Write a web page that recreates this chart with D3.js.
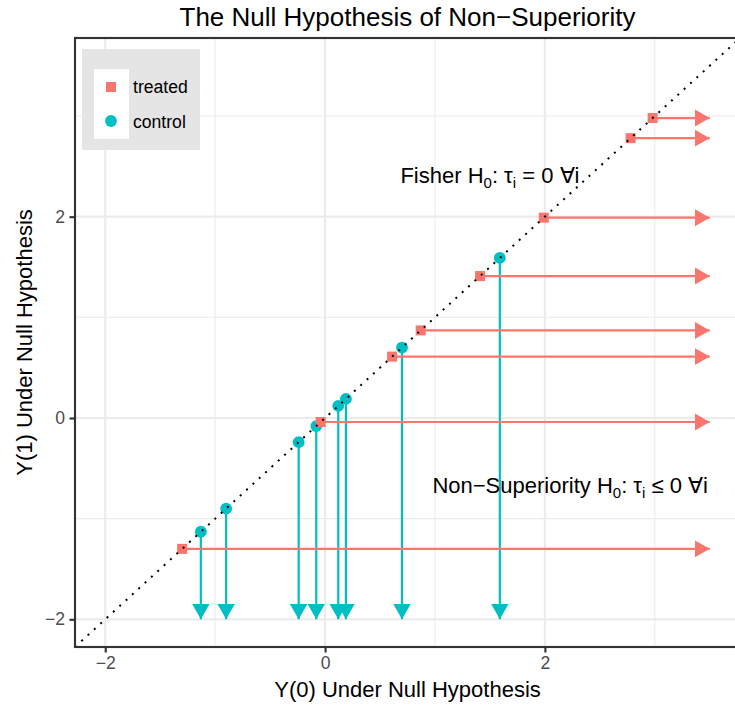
<!DOCTYPE html>
<html>
<head>
<meta charset="utf-8">
<script src="https://cdn.jsdelivr.net/npm/d3@7"></script>
<style>
  body { margin: 0; background: #fff; }
  text { font-family: "Liberation Sans", Arial, sans-serif; }
</style>
</head>
<body>
<svg class="chart" width="735" height="706"></svg>
<script>
// values, every unit sits on the diagonal y = x
var treated = [-1.30, -0.04, 0.61, 0.87, 1.41, 1.99, 2.78, 2.98]
var control = [-1.13, -0.90, -0.24, -0.08, 0.12, 0.19, 0.70, 1.59]
var arrowEndX = 3.5 // horizontal arrows go right up to here
var arrowEndY = -2  // vertical arrows go down to here
var majorTicks = [-2, 0, 2]
var minorTicks = [-1, 1, 3]
var groups = ["treated", "control"]
var colors = ["#F8766D", "#00BFC4"]

var panel = { left: 75, right: 740, top: 38, bottom: 647 }

var x = d3.scaleLinear().domain([-2.275, 3.775]).range([panel.left, panel.right])
var y = d3.scaleLinear().domain([-2.275, 3.775]).range([panel.bottom, panel.top])
var color = d3.scaleOrdinal().domain(groups).range(colors)

var chart = d3.select(".chart")

chart.append("defs").append("clipPath").attr("id", "clip")
    .append("rect")
    .attr("x", panel.left).attr("y", panel.top)
    .attr("width", panel.right - panel.left).attr("height", panel.bottom - panel.top)

// arrow heads, one per colour
groups.forEach(g => {
    chart.select("defs").append("marker")
        .attr("id", "head-" + g)
        .attr("markerUnits", "userSpaceOnUse")
        .attr("viewBox", "0 -9 16 18")
        .attr("refX", 15.2).attr("refY", 0)
        .attr("markerWidth", 16).attr("markerHeight", 18)
        .attr("orient", "auto")
        .append("path")
        .attr("d", "M0,-8.7L15.2,0L0,8.7Z")
        .attr("fill", color(g))
})

var plot = chart.append("g").attr("clip-path", "url(#clip)")

// grid lines (minor thin, major thicker)
plot.selectAll(".vminor").data(minorTicks).enter().append("line")
    .attr("x1", d => x(d)).attr("x2", d => x(d))
    .attr("y1", panel.top).attr("y2", panel.bottom)
    .attr("stroke", "#EBEBEB").attr("stroke-width", 1.07)
plot.selectAll(".hminor").data(minorTicks).enter().append("line")
    .attr("y1", d => y(d)).attr("y2", d => y(d))
    .attr("x1", panel.left).attr("x2", panel.right)
    .attr("stroke", "#EBEBEB").attr("stroke-width", 1.07)
plot.selectAll(".vmajor").data(majorTicks).enter().append("line")
    .attr("x1", d => x(d)).attr("x2", d => x(d))
    .attr("y1", panel.top).attr("y2", panel.bottom)
    .attr("stroke", "#EBEBEB").attr("stroke-width", 2.13)
plot.selectAll(".hmajor").data(majorTicks).enter().append("line")
    .attr("y1", d => y(d)).attr("y2", d => y(d))
    .attr("x1", panel.left).attr("x2", panel.right)
    .attr("stroke", "#EBEBEB").attr("stroke-width", 2.13)

// control units: Y(1) can go all the way down
plot.selectAll(".down").data(control).enter().append("line")
    .attr("x1", d => x(d)).attr("x2", d => x(d))
    .attr("y1", d => y(d)).attr("y2", y(arrowEndY))
    .attr("stroke", color("control")).attr("stroke-width", 2.2)
    .attr("marker-end", "url(#head-control)")

// treated units: Y(0) can go all the way right
plot.selectAll(".right").data(treated).enter().append("line")
    .attr("x1", d => x(d)).attr("x2", x(arrowEndX))
    .attr("y1", d => y(d)).attr("y2", d => y(d))
    .attr("stroke", color("treated")).attr("stroke-width", 2.2)
    .attr("marker-end", "url(#head-treated)")

plot.selectAll(".pt-c").data(control).enter().append("circle")
    .attr("cx", d => x(d)).attr("cy", d => y(d)).attr("r", 5.9)
    .attr("fill", color("control"))

plot.selectAll(".pt-t").data(treated).enter().append("rect")
    .attr("x", d => x(d) - 5).attr("y", d => y(d) - 5)
    .attr("width", 10).attr("height", 10)
    .attr("fill", color("treated"))

// the y = x line, dotted, over everything
plot.append("line")
    .attr("x1", x(-2.275)).attr("y1", y(-2.275))
    .attr("x2", x(3.775)).attr("y2", y(3.775))
    .attr("stroke", "#000").attr("stroke-width", 2)
    .attr("stroke-dasharray", "2,6.6")

// annotations with subscripts, a sub part drops the baseline and the next part lifts it back
function annot(px, py, parts) {
    var t = chart.append("text")
        .attr("x", x(px)).attr("y", y(py)).attr("dy", "0.35em")
        .attr("text-anchor", "middle")
        .style("font-size", "22px").attr("fill", "#000")
    var lowered = false
    parts.forEach(p => {
        if (p.sub) {
            t.append("tspan").attr("dy", 5).style("font-size", "15px").text(p.sub)
            lowered = true
        } else {
            t.append("tspan").attr("dy", lowered ? -5 : 0).text(p.txt)
            lowered = false
        }
    })
}
annot(1.5, 2.33, [{ txt: "Fisher H" }, { sub: "0" }, { txt: ": τ" }, { sub: "i" }, { txt: " = 0 ∀i" }])
annot(2.23, -0.75, [{ txt: "Non\u2212Superiority H" }, { sub: "0" }, { txt: ": τ" }, { sub: "i" }, { txt: " ≤ 0 ∀i" }])

// legend
var legend = chart.append("g")
legend.append("rect").attr("x", 82).attr("y", 49).attr("width", 118).attr("height", 101).attr("fill", "#E5E5E5")
legend.append("rect").attr("x", 94).attr("y", 69).attr("width", 35).attr("height", 70).attr("fill", "#fff")
legend.append("rect").attr("x", 106).attr("y", 82).attr("width", 10).attr("height", 10).attr("fill", color("treated"))
legend.append("circle").attr("cx", 111).attr("cy", 121).attr("r", 5.9).attr("fill", color("control"))
legend.selectAll(".lab").data(groups).enter().append("text")
    .attr("x", 133).attr("y", (d, i) => 87 + i * 34.5).attr("dy", "0.35em")
    .style("font-size", "17.6px").attr("fill", "#000")
    .text(d => d)

// axes
var xAxis = d3.axisBottom(x).tickValues(majorTicks).tickSize(5.5).tickPadding(4.4)
    .tickFormat(d => d < 0 ? "\u2212" + Math.abs(d) : d)
var yAxis = d3.axisLeft(y).tickValues(majorTicks).tickSize(5.5).tickPadding(4.4)
    .tickFormat(d => d < 0 ? "\u2212" + Math.abs(d) : d)

var gx = chart.append("g").attr("transform", `translate(0,${panel.bottom})`).call(xAxis)
var gy = chart.append("g").attr("transform", `translate(${panel.left},0)`).call(yAxis)
;[gx, gy].forEach(g => {
    g.select(".domain").remove()
    g.selectAll(".tick line").attr("stroke", "#333333").attr("stroke-width", 2.13)
    g.selectAll(".tick text").attr("fill", "#4D4D4D")
        .style("font-size", "17.6px").style("font-family", "Liberation Sans, Arial, sans-serif")
})

// panel border
chart.append("rect")
    .attr("x", panel.left).attr("y", panel.top)
    .attr("width", panel.right - panel.left).attr("height", panel.bottom - panel.top)
    .attr("fill", "none").attr("stroke", "#333333").attr("stroke-width", 2.13)

chart.append("text")
    .attr("x", (panel.left + panel.right) / 2).attr("y", 26)
    .attr("text-anchor", "middle").style("font-size", "26px")
    .text("The Null Hypothesis of Non\u2212Superiority")

chart.append("text")
    .attr("x", (panel.left + panel.right) / 2).attr("y", 697)
    .attr("text-anchor", "middle").style("font-size", "22px")
    .text("Y(0) Under Null Hypothesis")

chart.append("text")
    .attr("transform", `translate(32,${(panel.top + panel.bottom) / 2}) rotate(-90)`)
    .attr("text-anchor", "middle").style("font-size", "22px")
    .text("Y(1) Under Null Hypothesis")
</script>
</body>
</html>
